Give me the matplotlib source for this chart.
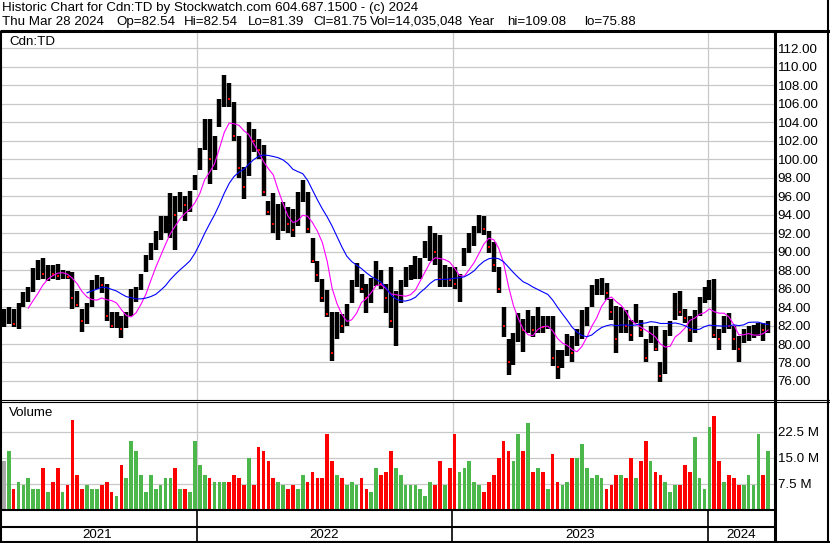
import numpy as np
import pandas as pd
import matplotlib
matplotlib.use('Agg')
import matplotlib.pyplot as plt
import matplotlib.dates as mdates

plt.rcParams['font.family'] = ['Liberation Sans', 'DejaVu Sans']

# weekly bars, first week starts 2021-03-29, last ends 2024-03-28
week_start = '2021-03-29'
hi = [83.8, 84.0, 83.8, 84.4, 85.6, 86.2, 88.2, 89.1, 89.3, 88.5,
      88.6, 88.7, 88.0, 87.9, 87.8, 85.7, 83.8, 84.4, 86.9, 87.5,
      87.3, 86.5, 83.5, 83.5, 83.0, 83.5, 86.0, 86.2, 87.6, 89.6,
      90.9, 92.2, 93.8, 93.8, 96.3, 96.0, 96.5, 96.0, 96.6, 98.3,
      101.2, 104.3, 104.3, 102.5, 106.5, 109.1, 108.3, 106.2, 102.5, 99.2,
      104.0, 103.3, 102.2, 101.5, 95.5, 96.3, 95.2, 95.4, 94.8, 94.6,
      96.5, 97.8, 96.5, 91.5, 89.0, 87.0, 85.8, 83.5, 83.5, 83.3,
      84.3, 86.9, 88.8, 87.6, 86.5, 87.1, 89.0, 88.0, 86.5, 88.3,
      85.7, 86.9, 88.3, 88.6, 89.5, 89.3, 91.2, 92.8, 92.0, 91.8,
      88.6, 88.3, 88.3, 87.6, 90.4, 92.0, 92.8, 94.0, 93.8, 92.2,
      91.0, 88.3, 84.0, 80.5, 81.2, 83.4, 82.7, 83.7, 83.0, 84.0,
      83.0, 83.0, 83.0, 79.4, 79.4, 81.1, 80.9, 81.6, 83.7, 84.0,
      86.4, 87.0, 87.1, 86.6, 84.9, 84.1, 84.0, 83.7, 82.6, 84.3,
      82.6, 80.5, 82.0, 82.0, 78.0, 81.5, 82.5, 85.5, 85.7, 83.8,
      83.0, 83.7, 85.1, 86.2, 86.9, 87.0, 81.6, 83.0, 83.4, 81.9,
      80.9, 81.6, 81.9, 82.1, 82.3, 82.3, 82.54]
lo = [81.8, 82.2, 81.8, 81.6, 84.0, 84.5, 85.6, 86.9, 87.0, 86.8,
      87.0, 86.9, 87.0, 87.0, 83.8, 84.0, 81.3, 82.2, 84.0, 86.0,
      85.5, 82.5, 81.7, 81.7, 80.7, 81.7, 83.0, 84.5, 85.8, 87.8,
      89.1, 90.2, 91.3, 92.0, 91.5, 90.2, 94.3, 93.3, 94.3, 96.7,
      98.8, 101.0, 97.3, 98.8, 103.5, 105.7, 105.7, 102.0, 98.0, 95.7,
      98.2, 100.8, 100.0, 96.0, 94.0, 92.0, 91.3, 92.2, 92.0, 91.6,
      92.8, 95.4, 92.0, 88.8, 86.7, 84.5, 82.9, 78.2, 80.5, 81.2,
      82.0, 84.4, 86.2, 85.5, 83.4, 84.4, 86.3, 85.9, 83.4, 81.7,
      79.8, 84.4, 86.2, 86.9, 87.0, 87.0, 89.3, 89.0, 88.6, 86.2,
      86.2, 86.2, 85.9, 84.6, 88.4, 89.9, 90.6, 92.0, 91.8, 89.9,
      87.8, 85.5, 80.8, 76.6, 77.7, 80.2, 79.1, 81.2, 80.8, 81.2,
      81.2, 81.6, 77.6, 76.2, 77.4, 78.7, 78.0, 79.8, 80.5, 81.9,
      84.0, 85.3, 85.3, 84.8, 82.6, 79.0, 81.2, 81.2, 80.3, 82.3,
      80.8, 78.1, 80.1, 79.2, 75.88, 76.8, 80.9, 82.6, 83.0, 82.3,
      80.2, 81.2, 83.0, 84.4, 84.8, 80.6, 79.4, 81.2, 81.6, 79.4,
      78.1, 80.1, 80.3, 80.7, 80.9, 80.3, 81.2]
cl = [82.3, 83.5, 82.2, 84.2, 85.3, 85.8, 87.3, 88.2, 87.6, 87.9,
      87.6, 87.4, 87.6, 87.2, 85.0, 84.2, 82.5, 84.0, 86.0, 86.8,
      86.4, 83.0, 82.0, 82.5, 81.6, 83.0, 85.5, 85.7, 87.5, 89.0,
      90.5, 91.5, 93.0, 93.2, 94.5, 94.0, 95.2, 95.0, 95.5, 97.5,
      100.5, 103.0, 100.0, 100.5, 105.5, 108.0, 106.5, 102.5, 99.0, 97.0,
      103.0, 102.0, 101.0, 96.5, 94.3, 93.0, 93.1, 93.2, 93.0, 92.3,
      95.5, 96.5, 92.5, 89.0, 87.5, 85.0, 83.2, 79.0, 82.5, 82.0,
      83.0, 86.0, 87.5, 86.0, 85.0, 86.0, 87.5, 86.5, 85.0, 82.5,
      84.5, 85.5, 87.0, 87.5, 88.0, 88.5, 90.5, 91.5, 90.0, 87.0,
      87.3, 86.9, 86.5, 86.8, 89.5, 91.5, 91.7, 93.0, 92.5, 90.5,
      88.5, 86.0, 82.0, 78.0, 80.0, 82.0, 81.5, 82.5, 81.5, 82.0,
      81.8, 82.3, 78.5, 77.5, 78.5, 80.5, 79.0, 81.0, 82.0, 83.5,
      85.5, 86.0, 86.5, 85.5, 83.5, 80.5, 83.0, 82.0, 81.0, 83.0,
      81.5, 78.5, 81.0, 79.5, 76.5, 81.0, 82.0, 84.5, 83.5, 82.8,
      81.5, 82.5, 84.5, 85.5, 86.0, 81.0, 80.5, 82.5, 82.0, 80.5,
      79.5, 81.0, 81.3, 81.5, 82.0, 81.5, 81.75]
# volume, millions of shares (biggest day in the week)
vol = [14, 17, 6, 8, 7, 9, 6, 6, 12, 5,
       8, 12, 5, 7, 26, 10, 6, 7, 6, 6,
       7, 8, 5, 4, 13, 9, 20, 17, 10, 5,
       10, 6, 7, 9, 9, 12, 6, 6, 5, 20,
       13, 10, 9, 8, 8, 8, 8, 10, 9, 7,
       15, 7, 18, 17, 14, 9, 8, 7, 6, 7,
       6, 10, 8, 11, 9, 9, 22, 14, 10, 9,
       7, 8, 7, 9, 6, 5, 12, 10, 11, 17,
       12, 10, 7, 7, 7, 6, 4, 8, 7, 14,
       7, 12, 22, 11, 12, 14, 8, 7, 5, 8,
       10, 15, 20, 17, 14, 22, 17, 25, 11, 12,
       11, 6, 16, 8, 7, 8, 15, 15, 19, 12,
       9, 10, 9, 6, 7, 10, 10, 9, 15, 9,
       14, 20, 14, 11, 10, 8, 5, 7, 7, 13,
       11, 21, 9, 6, 24, 27, 14, 8, 10, 9,
       7, 7, 10, 7, 22, 10, 17]
years = ['2021', '2022', '2023', '2024']
quote = ['Thu Mar 28 2024', 'Op=82.54', 'Hi=82.54', 'Lo=81.39', 'Cl=81.75',
         'Vol=14,035,048', 'Year', 'hi=109.08', 'lo=75.88']

W, H = 830, 543


def rect(x0, y0, x1, y1):
    # pixel box -> figure fraction
    return [x0 / W, 1 - y1 / H, (x1 - x0) / W, (y1 - y0) / H]


weeks = pd.date_range(week_start, periods=len(cl), freq='7D')
xd = mdates.date2num(weeks) + 2
px_day = 511 / 730
d22 = mdates.date2num(pd.Timestamp('2022-01-01'))
xlim = (d22 - 195 / px_day, d22 + 577 / px_day)
ybounds = [mdates.date2num(pd.Timestamp(y + '-01-01')) for y in years[1:]]

close = pd.Series(cl)
ma_fast = close.rolling(6).mean()
ma_slow = close.rolling(18).mean()
chg = close.diff().fillna(0)
vcol = np.where(chg > 0, '#4cb84c', np.where(chg < 0, '#ff0000', '#a8a8a8'))

grid = '#c8c8c8'
fs = 9.6
fig = plt.figure(figsize=(8.3, 5.43), dpi=100)

# price
ax = fig.add_axes(rect(2, 33, 774, 400))
ax.set_xlim(xlim)
ax.set_ylim(73.94, 113.66)
for p in np.arange(76, 113, 2):
    ax.axhline(p, color=grid, lw=0.9, zorder=0)
for b in ybounds:
    ax.axvline(b, color=grid, lw=0.9, zorder=0)
ax.vlines(xd, lo, hi, color='black', lw=3.2, zorder=2)
down = chg.values < 0
ax.scatter(xd[down], np.array(cl)[down], marker='s', s=2.5, color='red', lw=0, zorder=3)
ax.plot(xd, ma_fast, color='#ff00ff', lw=0.8, zorder=4)
ax.plot(xd, ma_slow, color='#0000ff', lw=0.8, zorder=4)
ax.yaxis.tick_right()
ax.set_yticks(np.arange(76, 113, 2))
ax.set_yticklabels([f'{p:.2f}' for p in np.arange(76, 113, 2)], fontsize=fs)
ax.tick_params(axis='y', length=0, pad=2.6)
ax.set_xticks([])
for s in ax.spines.values():
    s.set_visible(False)

# volume
axv = fig.add_axes(rect(2, 402, 774, 509.5))
axv.set_xlim(xlim)
axv.set_ylim(0, 31.2)
for v in [7.5, 15, 22.5]:
    axv.axhline(v, color=grid, lw=0.9, zorder=0)
for b in ybounds:
    axv.axvline(b, color=grid, lw=0.9, zorder=0)
axv.bar(xd, vol, width=5.4, color=vcol, zorder=2)
axv.yaxis.tick_right()
axv.set_yticks([7.5, 15, 22.5])
axv.set_yticklabels(['7.5 M', '15.0 M', '22.5 M'], fontsize=fs)
axv.tick_params(axis='y', length=0, pad=2.6)
axv.set_xticks([])
for s in axv.spines.values():
    s.set_visible(False)

# frame, header and labels in pixel coordinates
fr = fig.add_axes([0, 0, 1, 1], zorder=10)
fr.set_xlim(0, W)
fr.set_ylim(H, 0)
fr.axis('off')
fr.patch.set_alpha(0)
k = dict(color='black', solid_capstyle='butt')
fr.plot([0, W], [31, 31], lw=2.2, **k)
fr.plot([1, 1], [31, 542], lw=1.5, **k)
fr.plot([828, 828], [0, 542], lw=1.5, **k)
fr.plot([0, W], [541.5, 541.5], lw=1.5, **k)
fr.plot([0, W], [400, 400], lw=0.8, **k)
fr.plot([0, W], [402, 402], lw=0.8, **k)
fr.plot([0, 774], [509.5, 509.5], lw=1.5, **k)
fr.plot([0, 774], [527, 527], lw=1.5, **k)
fr.plot([774.5, 774.5], [31, 542], lw=2.2, **k)
for xb in [197, 452, 708]:
    fr.plot([xb, xb], [510, 541], lw=1.2, **k)

fr.text(2, 8, 'Historic Chart for Cdn:TD by Stockwatch.com 604.687.1500 - (c) 2024',
        fontsize=fs, va='center')
for t, xq in zip(quote, [2, 116, 184, 248, 313, 463, 468, 507, 584]):
    fr.text(xq, 22, t, fontsize=fs, va='center',
            ha='right' if t.startswith('Vol') else 'left')
fr.text(9, 42, 'Cdn:TD', fontsize=fs, va='center')
fr.text(9, 413, 'Volume', fontsize=fs, va='center')
for lab, xc in zip(years, [97, 324.5, 580, 741]):
    fr.text(xc, 535, lab, fontsize=fs, va='center', ha='center')

fig.savefig('out.png', dpi=100, facecolor='white')
